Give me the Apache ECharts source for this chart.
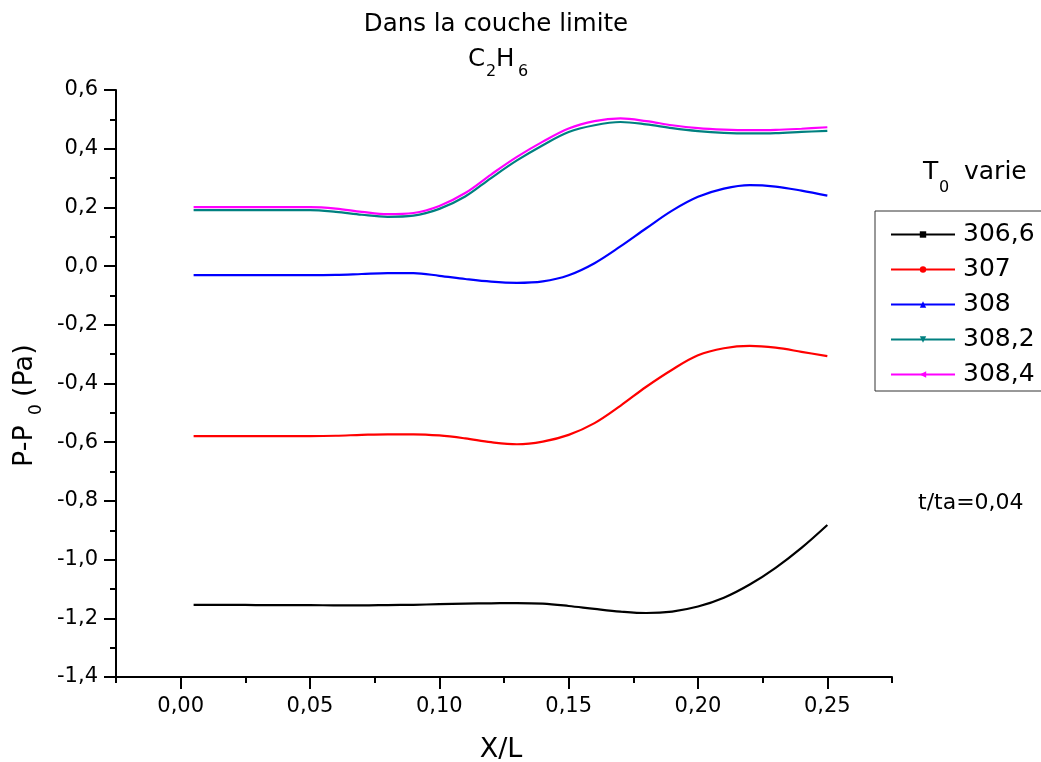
<!DOCTYPE html>
<html>
<head>
<meta charset="utf-8">
<title>Dans la couche limite - C2H6</title>
<script src="https://cdn.jsdelivr.net/npm/echarts@6.0.0/dist/echarts.min.js"></script>
<style>
  html, body { margin: 0; padding: 0; background: #fff; }
  #chart { width: 1041px; height: 762px; }
</style>
</head>
<body>
<div id="chart"></div>
<script>
// X/L positions sampled along the boundary layer
const xPos = [0.005, 0.01, 0.02, 0.03, 0.04, 0.05, 0.06, 0.07, 0.08, 0.09, 0.10, 0.11, 0.12,
              0.13, 0.14, 0.15, 0.16, 0.17, 0.18, 0.19, 0.20, 0.21, 0.22, 0.23, 0.24, 0.25];

// P-P0 (Pa) for each T0
const p3066 = [-1.154, -1.154, -1.154, -1.155, -1.155, -1.155, -1.156, -1.156, -1.155, -1.154, -1.152, -1.150, -1.149,
               -1.148, -1.150, -1.158, -1.168, -1.177, -1.182, -1.177, -1.160, -1.130, -1.085, -1.028, -0.960, -0.882];
const p307  = [-0.579, -0.579, -0.579, -0.579, -0.579, -0.579, -0.578, -0.575, -0.573, -0.573, -0.577, -0.587, -0.600,
               -0.607, -0.598, -0.575, -0.535, -0.476, -0.411, -0.353, -0.304, -0.280, -0.272, -0.278, -0.292, -0.307];
const p308  = [-0.031, -0.031, -0.031, -0.031, -0.031, -0.031, -0.030, -0.027, -0.024, -0.024, -0.033, -0.044, -0.053,
               -0.057, -0.052, -0.031, 0.010, 0.067, 0.129, 0.189, 0.236, 0.264, 0.276, 0.271, 0.257, 0.240];
const p3082 = [0.191, 0.191, 0.191, 0.191, 0.191, 0.191, 0.185, 0.175, 0.168, 0.172, 0.195, 0.237, 0.300,
               0.360, 0.412, 0.457, 0.480, 0.491, 0.483, 0.470, 0.460, 0.454, 0.452, 0.453, 0.457, 0.461];
const p3084 = [0.201, 0.201, 0.201, 0.201, 0.201, 0.201, 0.196, 0.185, 0.177, 0.181, 0.205, 0.249, 0.312,
               0.372, 0.424, 0.469, 0.494, 0.503, 0.494, 0.480, 0.470, 0.465, 0.463, 0.464, 0.468, 0.473];

const seriesNames = ['306,6', '307', '308', '308,2', '308,4'];
const seriesValues = [p3066, p307, p308, p3082, p3084];

// tick positions
const xMajorTicks = [0, 0.05, 0.10, 0.15, 0.20, 0.25];

const FONT = '"DejaVu Sans", "Liberation Sans", Arial, sans-serif';
const colors = ['#000000', '#ff0000', '#0000ff', '#008080', '#ff00ff'];
const symbols = ['rect', 'circle', 'triangle', 'triangle', 'triangle'];
const symbolRotations = [0, 0, 0, 180, 90];

const comma = (v, d) => v.toFixed(d).replace('.', ',');

const series = seriesNames.map((name, i) => ({
  name: name,
  type: 'line',
  xAxisIndex: 0,
  yAxisIndex: 0,
  data: xPos.map((x, k) => [x, seriesValues[i][k]]),
  smooth: 0.35,
  showSymbol: false,
  symbol: symbols[i],
  symbolRotate: symbolRotations[i],
  symbolSize: 6,
  lineStyle: { color: colors[i], width: 2.2 },
  itemStyle: { color: colors[i] },
  emphasis: { disabled: true },
  animation: false
}));

function txt(text, x, y, size, align, extra) {
  return Object.assign({
    type: 'text',
    x: x, y: y,
    style: {
      text: text,
      font: size + 'px ' + FONT,
      fill: '#000',
      align: align || 'left',
      textAlign: align || 'left',
      verticalAlign: 'middle',
      textVerticalAlign: 'middle'
    },
    silent: true
  }, extra || {});
}

const chart = echarts.init(document.getElementById('chart'), null, { renderer: 'canvas' });

chart.setOption({
  backgroundColor: '#ffffff',
  animation: false,
  textStyle: { fontFamily: FONT, color: '#000' },
  grid: { left: 116, right: 149, top: 90, bottom: 85, containLabel: false },
  legend: {
    orient: 'vertical',
    left: 875,
    top: 211,
    padding: [10, 7, 3, 15],
    itemGap: 8,
    itemWidth: 64,
    itemHeight: 8,
    borderColor: '#333',
    borderWidth: 1,
    selectedMode: false,
    data: seriesNames,
    textStyle: { fontFamily: FONT, fontSize: 25, lineHeight: 27, color: '#000', padding: [0, 0, 0, 3] }
  },
  xAxis: [
    {
      type: 'value',
      min: -0.025,
      max: 0.275,
      interval: 0.025,
      position: 'bottom',
      axisLine: { show: true, onZero: false, lineStyle: { color: '#000', width: 2 } },
      axisTick: { show: true, inside: false, length: 12, customValues: xMajorTicks,
                  lineStyle: { color: '#000', width: 2 } },
      axisLabel: { show: true, margin: 19, fontSize: 21, fontFamily: FONT, color: '#000',
                   customValues: xMajorTicks, formatter: v => comma(v, 2) },
      splitLine: { show: false }
    },
    {
      type: 'value',
      min: -0.025,
      max: 0.275,
      interval: 0.05,
      position: 'bottom',
      axisLine: { show: false, onZero: false },
      axisTick: { show: true, inside: false, length: 6, lineStyle: { color: '#000', width: 2 } },
      axisLabel: { show: false },
      splitLine: { show: false }
    }
  ],
  yAxis: {
    type: 'value',
    min: -1.4,
    max: 0.6,
    interval: 0.2,
    axisLine: { show: true, onZero: false, lineStyle: { color: '#000', width: 2 } },
    axisTick: { show: true, inside: false, length: 12, lineStyle: { color: '#000', width: 2 } },
    minorTick: { show: true, splitNumber: 2, length: 6, lineStyle: { color: '#000', width: 2 } },
    axisLabel: { margin: 18, fontSize: 21, fontFamily: FONT, color: '#000',
                 formatter: v => comma(v, 1) },
    splitLine: { show: false }
  },
  graphic: [
    // title
    txt('Dans la couche limite', 496, 25, 24.5, 'center'),
    txt('C', 468, 60, 24.5, 'left'),
    txt('2', 486, 72, 16, 'left'),
    txt('H', 496, 60, 24.5, 'left'),
    txt('6', 518, 72, 16, 'left'),
    // legend heading
    txt('T', 923, 172, 25, 'left'),
    txt('0', 939, 188, 16, 'left'),
    txt('varie', 964, 172, 25, 'left'),
    // time annotation
    txt('t/ta=0,04', 918, 503, 22, 'left'),
    // axis names
    txt('X/L', 501, 750, 27, 'center'),
    {
      type: 'group',
      x: 25,
      y: 467,
      rotation: Math.PI / 2,
      silent: true,
      children: [
        txt('P-P', 0, 0, 27, 'left'),
        txt('0', 52, 12, 17, 'left'),
        txt('(Pa)', 70, 0, 27, 'left')
      ]
    }
  ],
  series: series
});
</script>
</body>
</html>
